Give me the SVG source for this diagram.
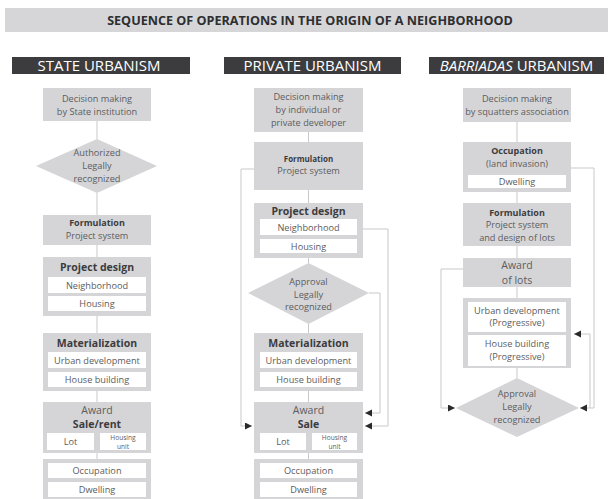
<svg xmlns="http://www.w3.org/2000/svg" width="608" height="499" viewBox="0 0 608 499">
<defs>
<marker id="arr" markerUnits="userSpaceOnUse" markerWidth="8" markerHeight="8" refX="7" refY="3.5" orient="auto">
<path d="M0,0 L7,3.5 L0,7 z" fill="#2a2a2a"/>
</marker>
<style>
text{font-family:"Open Sans","Liberation Sans",sans-serif;text-anchor:middle;fill:#5c5c5e;font-size:9.2px}
.b{font-weight:bold;fill:#3c3c3e;font-size:9px}
.b2{font-weight:bold;fill:#3c3c3e;font-size:8px}
.bb{font-weight:bold;fill:#3c3c3e;font-size:10.5px}
.m{font-size:10.5px}
.s{font-size:6.6px}
.box{fill:#d5d5d8}
.w{fill:#ffffff}
.hd{fill:#3c3c3e}
.ht{fill:#ffffff;font-size:15px}
.c{fill:none;stroke:#c9c9cb;stroke-width:1}
</style>
</defs>
<rect width="608" height="499" fill="#ffffff"/>
<g id="title">
<rect x="5" y="8" width="603" height="24" fill="#d6d6d9"/>
<text x="310" y="24.5" style="font-weight:bold;fill:#2e2e30;font-size:12.6px">SEQUENCE OF OPERATIONS IN THE ORIGIN OF A NEIGHBORHOOD</text>
</g>
<g id="head-state"><rect class="hd" x="12" y="57" width="178" height="17"/><text class="ht" x="99" y="70.5">STATE URBANISM</text></g>
<g id="head-private"><rect class="hd" x="224" y="57" width="177" height="17"/><text class="ht" x="312.5" y="70.5">PRIVATE URBANISM</text></g>
<g id="head-barriadas"><rect class="hd" x="429" y="57" width="175" height="17"/><text class="ht" x="516.5" y="70.5"><tspan font-style="italic">BARRIADAS</tspan> URBANISM</text></g>

<g id="connectors">
<path class="c" d="M97,121V139M97,193V215M97,245V257M97,316V333M97,391V402M97,450V459"/>
<path class="c" d="M308.5,132V142M308.5,190V203M308.5,258V263M308.5,324V333M308.5,391V402M308.5,450V459"/>
<path class="c" d="M517,122V142M517,192V203M517,246V258M517,287V298M517,368V378"/>
<path class="c" d="M254,169H241V426H252" marker-end="url(#arr)"/>
<path class="c" d="M363,229H388V426H365" marker-end="url(#arr)"/>
<path class="c" d="M369,293H380V413H365" marker-end="url(#arr)"/>
<path class="c" d="M571,168H594V408H580" marker-end="url(#arr)"/>
<path class="c" d="M463,269H441V408H455" marker-end="url(#arr)"/>
<path class="c" d="M590,408V334H574" marker-end="url(#arr)"/>
</g>

<g id="s-decision"><rect class="box" x="43" y="88" width="108" height="33"/><text x="97" y="102">Decision making</text><text x="97" y="115">by State institution</text></g>
<g id="s-authorized"><polygon class="box" points="97,139 157,166 97,193 36,166"/><text x="97" y="156">Authorized</text><text x="97" y="169">Legally</text><text x="97" y="181.5">recognized</text></g>
<g id="s-formulation"><rect class="box" x="43" y="215" width="108" height="30"/><text class="b" x="97" y="226">Formulation</text><text x="97" y="239">Project system</text></g>
<g id="s-design"><rect class="box" x="43" y="257" width="108" height="59"/><text class="bb" x="97" y="271">Project design</text>
<rect class="w" x="48" y="277" width="98" height="16"/><text x="97" y="288.5">Neighborhood</text>
<rect class="w" x="48" y="296" width="98" height="15"/><text x="97" y="307">Housing</text></g>
<g id="s-materialization"><rect class="box" x="43" y="333" width="108" height="58"/><text class="bb" x="97" y="347">Materialization</text>
<rect class="w" x="48" y="352" width="98" height="16"/><text x="97" y="363.5">Urban development</text>
<rect class="w" x="48" y="372" width="98" height="15"/><text x="97" y="383">House building</text></g>
<g id="s-award"><rect class="box" x="43" y="402" width="108" height="51"/><text class="m" x="97" y="414">Award</text><text class="bb" x="97" y="428">Sale/rent</text>
<rect class="w" x="47" y="433" width="47" height="17"/><text x="70.5" y="445">Lot</text>
<rect class="w" x="100" y="433" width="46" height="17"/><text class="s" x="123" y="439.6">Housing</text><text class="s" x="123" y="448.6">unit</text></g>
<g id="s-occupation"><rect class="box" x="43" y="459" width="108" height="42"/>
<rect class="w" x="48" y="463" width="98" height="15"/><text x="97" y="474">Occupation</text>
<rect class="w" x="48" y="482" width="98" height="15"/><text x="97" y="493">Dwelling</text></g>

<g id="p-decision"><rect class="box" x="254" y="88" width="109" height="44"/><text x="308.5" y="100">Decision making</text><text x="308.5" y="113">by individual or</text><text x="308.5" y="126">private developer</text></g>
<g id="p-formulation"><rect class="box" x="254" y="142" width="109" height="48"/><text class="b2" x="308.5" y="162">Formulation</text><text x="308.5" y="174">Project system</text></g>
<g id="p-design"><rect class="box" x="254" y="203" width="109" height="55"/><text class="bb" x="308.5" y="215">Project design</text>
<rect class="w" x="260" y="219" width="97" height="16"/><text x="308.5" y="230.5">Neighborhood</text>
<rect class="w" x="260" y="239" width="97" height="14"/><text x="308.5" y="249.5">Housing</text></g>
<g id="p-approval"><polygon class="box" points="308.5,263 369,293 308.5,324 248,293"/><text x="308.5" y="285">Approval</text><text x="308.5" y="297.5">Legally</text><text x="308.5" y="310">recognized</text></g>
<g id="p-materialization"><rect class="box" x="254" y="333" width="109" height="58"/><text class="bb" x="308.5" y="347">Materialization</text>
<rect class="w" x="260" y="352" width="97" height="16"/><text x="308.5" y="363.5">Urban development</text>
<rect class="w" x="260" y="372" width="97" height="15"/><text x="308.5" y="383">House building</text></g>
<g id="p-award"><rect class="box" x="254" y="402" width="109" height="51"/><text class="m" x="308.5" y="414">Award</text><text class="bb" x="308.5" y="428">Sale</text>
<rect class="w" x="260" y="433" width="46" height="17"/><text x="283" y="445">Lot</text>
<rect class="w" x="312" y="433" width="45" height="17"/><text class="s" x="334.5" y="439.6">Housing</text><text class="s" x="334.5" y="448.6">unit</text></g>
<g id="p-occupation"><rect class="box" x="254" y="459" width="109" height="42"/>
<rect class="w" x="260" y="463" width="97" height="15"/><text x="308.5" y="474">Occupation</text>
<rect class="w" x="260" y="482" width="97" height="15"/><text x="308.5" y="493">Dwelling</text></g>

<g id="b-decision"><rect class="box" x="463" y="88" width="108" height="34"/><text x="517" y="102">Decision making</text><text x="517" y="115">by squatters association</text></g>
<g id="b-occupation"><rect class="box" x="463" y="142" width="108" height="50"/><text class="b" x="517" y="154">Occupation</text><text x="517" y="166.5">(land invasion)</text>
<rect class="w" x="468" y="175" width="98" height="13"/><text x="517" y="185">Dwelling</text></g>
<g id="b-formulation"><rect class="box" x="463" y="203" width="108" height="43"/><text class="b" x="517" y="216">Formulation</text><text x="517" y="228">Project system</text><text x="517" y="240.5">and design of lots</text></g>
<g id="b-award"><rect class="box" x="463" y="258" width="108" height="29"/><text class="m" x="517" y="269">Award</text><text class="m" x="517" y="284">of lots</text></g>
<g id="b-progressive"><rect class="box" x="463" y="298" width="108" height="70"/>
<rect class="w" x="468" y="302" width="98" height="30"/><text x="517" y="313.5">Urban development</text><text x="517" y="325.5">(Progressive)</text>
<rect class="w" x="468" y="335" width="98" height="31"/><text x="517" y="346.5">House building</text><text x="517" y="359.5">(Progressive)</text></g>
<g id="b-approval"><polygon class="box" points="517,378 579,408 517,437 456,408"/><text x="517" y="397">Approval</text><text x="517" y="410">Legally</text><text x="517" y="423">recognized</text></g>
</svg>
